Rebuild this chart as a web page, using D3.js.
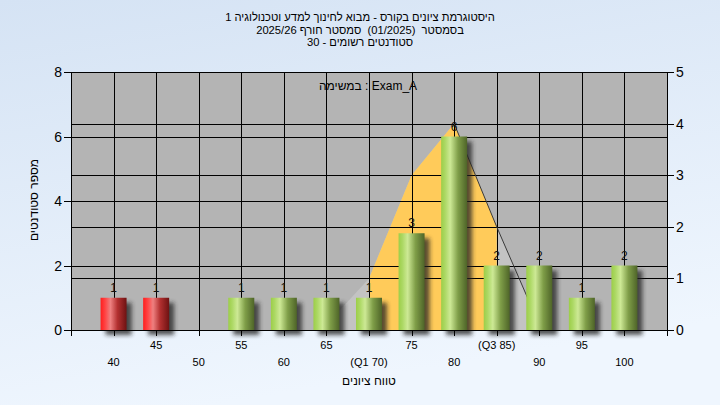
<!DOCTYPE html>
<html><head><meta charset="utf-8">
<script src="https://cdn.jsdelivr.net/npm/d3@7"></script>
<style>html,body{margin:0;padding:0;background:#e4eefa;} svg{display:block;}</style>
</head><body>
<svg id="c" width="720" height="405"></svg>
<script>
// ---- data ----
const grades = [40,45,50,55,60,65,70,75,80,85,90,95,100];
const counts = [1,1,0,1,1,1,1,3,6,2,2,1,2];
const failing = [40,45];
const xLabels = ["40","45","50","55","60","65","(Q1 70)","75","80","(Q3 85)","90","95","100"];
const leftTicks = [0,2,4,6,8];
const rightTicks = [0,1,2,3,4,5];
const curveGrades = [65,70,75,80,85,90];
const curveValues = [0.1,1.0,3.0,4.0,2.0,0.1];
const lineGrades = [80,85,90];
const lineValues = [4.0,2.0,0.1];
const q1 = 70, q3 = 85;
const titleLines = [
  "היסטוגרמת ציונים בקורס - מבוא לחינוך למדע וטכנולוגיה 1",
  "בסמסטר  (01/2025)  סמסטר חורף 2025/26",
  "סטודנטים רשומים - 30"
];
const yTitle = "מספר סטודנטים";
const xTitle = "טווח ציונים";
const note = "במשימה : Exam_A";

// ---- layout ----
const L = 71, R = 667, T = 72, B = 330;
const svg = d3.select("#c");
const font = "'Liberation Sans', Arial, sans-serif";

const defs = svg.append("defs");
const bg = defs.append("linearGradient").attr("id","bg").attr("x1",0).attr("y1",0).attr("x2",0.3).attr("y2",1);
bg.append("stop").attr("offset","0%").attr("stop-color","#d5e3f4");
bg.append("stop").attr("offset","100%").attr("stop-color","#eff6fe");
const gR = defs.append("linearGradient").attr("id","gRed").attr("x1",0).attr("x2",1).attr("y1",0).attr("y2",0);
[["0%","#ff1e1e"],["18%","#ff4545"],["38%","#ee8080"],["65%","#b33030"],["100%","#6e1212"]].forEach(s=>gR.append("stop").attr("offset",s[0]).attr("stop-color",s[1]));
const gG = defs.append("linearGradient").attr("id","gGreen").attr("x1",0).attr("x2",1).attr("y1",0).attr("y2",0);
[["0%","#9cce48"],["15%","#acd864"],["35%","#cde995"],["65%","#7f9e48"],["100%","#4e6428"]].forEach(s=>gG.append("stop").attr("offset",s[0]).attr("stop-color",s[1]));
const sh = defs.append("filter").attr("id","shadow").attr("x","-50%").attr("y","-50%").attr("width","200%").attr("height","200%");
sh.append("feGaussianBlur").attr("stdDeviation",2);

svg.append("rect").attr("width",720).attr("height",405).attr("fill","url(#bg)");

const x = d3.scaleLinear().domain([35,105]).range([L,R]);
const yL = d3.scaleLinear().domain([0,8]).range([B,T]);
const yR = d3.scaleLinear().domain([0,5]).range([B,T]);

// plot background
svg.append("rect").attr("x",L).attr("y",T).attr("width",R-L).attr("height",B-T).attr("fill","#b4b4b4");

// curve area
const cData = curveGrades.map((g,i)=>({g, v:curveValues[i]}));
const area = d3.area().x(d=>x(d.g)).y0(yR(0)).y1(d=>yR(d.v));
svg.append("path").datum(cData).attr("d",area).attr("fill","#c3c3c3");
defs.append("clipPath").attr("id","qClip").append("rect")
  .attr("x",x(q1)).attr("y",T).attr("width",x(q3)-x(q1)).attr("height",B-T);
svg.append("path").datum(cData).attr("d",area).attr("fill","#ffcb5a").attr("clip-path","url(#qClip)");

// gridlines
const grid = svg.append("g").attr("stroke","#000").attr("stroke-width",1).attr("shape-rendering","crispEdges");
leftTicks.forEach(t=>grid.append("line").attr("x1",L).attr("x2",R).attr("y1",Math.round(yL(t))+0.5).attr("y2",Math.round(yL(t))+0.5));
rightTicks.forEach(t=>grid.append("line").attr("x1",L).attr("x2",R).attr("y1",Math.round(yR(t))+0.5).attr("y2",Math.round(yR(t))+0.5));
grades.forEach(g=>grid.append("line").attr("y1",T).attr("y2",B).attr("x1",Math.round(x(g))+0.5).attr("x2",Math.round(x(g))+0.5));

// trend line
const lData = lineGrades.map((g,i)=>({g, v:lineValues[i]}));
svg.append("path").datum(lData).attr("d",d3.line().x(d=>x(d.g)).y(d=>yR(d.v)))
  .attr("fill","none").attr("stroke","#3a3a3a").attr("stroke-width",1);

// bars
const bw = 26;
const bData = grades.map((g,i)=>({g, v:counts[i], fail: failing.includes(g), label: xLabels[i]}));
const bars = bData.filter(d=>d.v>0);
svg.append("g").selectAll("rect").data(bars).join("rect")
  .attr("x",d=>x(d.g)-bw/2+5).attr("y",d=>yL(d.v)+5).attr("width",bw).attr("height",d=>B-yL(d.v))
  .attr("fill","#222").attr("opacity",0.75).attr("filter","url(#shadow)");
svg.append("g").selectAll("rect").data(bars).join("rect")
  .attr("x",d=>x(d.g)-bw/2).attr("y",d=>yL(d.v)).attr("width",bw).attr("height",d=>B-yL(d.v))
  .attr("fill",d=>d.fail?"url(#gRed)":"url(#gGreen)");
svg.append("g").selectAll("text").data(bars).join("text")
  .attr("x",d=>x(d.g)).attr("y",d=>yL(d.v)-6).attr("text-anchor","middle")
  .attr("font-family",font).attr("font-size",12).attr("fill","#111").text(d=>d.v);

// axes
const ax = svg.append("g").attr("stroke","#000").attr("stroke-width",1).attr("shape-rendering","crispEdges");
ax.append("line").attr("x1",L+0.5).attr("x2",L+0.5).attr("y1",T).attr("y2",B+6);
ax.append("line").attr("x1",R+0.5).attr("x2",R+0.5).attr("y1",T).attr("y2",B+6);
ax.append("line").attr("x1",L).attr("x2",R).attr("y1",T+0.5).attr("y2",T+0.5);
ax.append("line").attr("x1",L).attr("x2",R+1).attr("y1",B+0.5).attr("y2",B+0.5);
leftTicks.forEach(t=>ax.append("line").attr("x1",L-7).attr("x2",L).attr("y1",Math.round(yL(t))+0.5).attr("y2",Math.round(yL(t))+0.5));
rightTicks.forEach(t=>ax.append("line").attr("x1",R).attr("x2",R+7).attr("y1",Math.round(yR(t))+0.5).attr("y2",Math.round(yR(t))+0.5));
grades.forEach(g=>ax.append("line").attr("y1",B).attr("y2",B+6).attr("x1",Math.round(x(g))+0.5).attr("x2",Math.round(x(g))+0.5));

svg.append("g").selectAll("text").data(leftTicks).join("text")
  .attr("x",L-9).attr("y",d=>yL(d)+5).attr("text-anchor","end")
  .attr("font-family",font).attr("font-size",14).attr("fill","#000").text(d=>d);
svg.append("g").selectAll("text").data(rightTicks).join("text")
  .attr("x",R+9).attr("y",d=>yR(d)+5).attr("text-anchor","start")
  .attr("font-family",font).attr("font-size",14).attr("fill","#000").text(d=>d);
svg.append("g").selectAll("text").data(bData).join("text")
  .attr("x",d=>x(d.g)).attr("y",(d,i)=>i%2===1?349:366).attr("text-anchor","middle")
  .attr("font-family",font).attr("font-size",11).attr("fill","#000").text(d=>d.label);

// titles
svg.append("g").selectAll("text").data(titleLines).join("text")
  .attr("x",360).attr("y",(d,i)=>21+i*12.5).attr("text-anchor","middle")
  .attr("font-family",font).attr("font-size",11.2).attr("fill","#000")
  .attr("direction","rtl")
  .attr("style","white-space:pre")
  .text(d=>d);
svg.append("text").attr("transform","translate(38,200) rotate(-90)").attr("text-anchor","middle")
  .attr("font-family",font).attr("font-size",12).attr("fill","#000").text(yTitle);
svg.append("text").attr("x",(L+R)/2).attr("y",385).attr("text-anchor","middle")
  .attr("font-family",font).attr("font-size",12).attr("fill","#000").text(xTitle);
svg.append("text").attr("x",368).attr("y",90).attr("text-anchor","middle")
  .attr("font-family",font).attr("font-size",12).attr("fill","#000").text(note);
</script>
</body></html>
